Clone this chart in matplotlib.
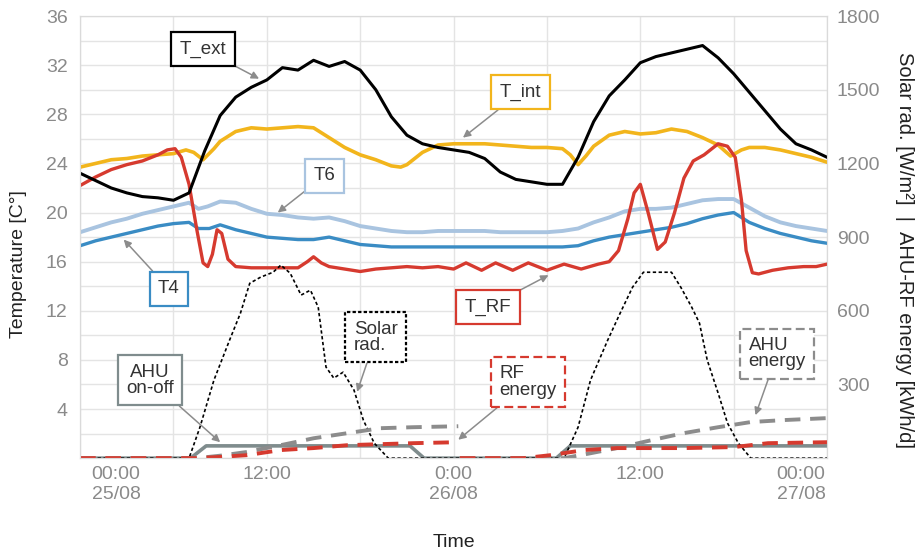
import numpy as np
import matplotlib.pyplot as plt
from matplotlib.transforms import ScaledTranslation

plt.rcParams["font.family"] = ["Liberation Sans", "DejaVu Sans"]

# time axis in hours from 00:00 25/08
x_ticks = [0, 12, 24, 36, 48]
x_labels = ["00:00\n25/08", "12:00", "0:00\n26/08", "12:00", "00:00\n27/08"]

# temperatures [C]
t_ext_h = list(range(49))
t_ext = [23.2, 22.6, 22.0, 21.6, 21.3, 21.2, 21.0, 21.6, 25.0, 27.9,
         29.4, 30.2, 30.8, 31.8, 31.6, 32.4, 31.9, 32.3, 31.6, 30.0,
         27.8, 26.3, 25.6, 25.3, 25.1, 24.9, 24.4, 23.3, 22.7, 22.5,
         22.3, 22.3, 24.5, 27.4, 29.5, 30.8, 32.2, 32.7, 33.0, 33.3,
         33.6, 32.6, 31.3, 29.8, 28.3, 26.8, 25.6, 25.1, 24.5]

t_int_h = [0, 1, 2, 3, 4, 5, 6, 6.8, 7.3, 7.9, 8.6, 9, 10, 11, 12, 13, 14, 15,
           16, 17, 18, 19, 20, 20.6, 21, 22, 23, 24, 25, 26, 27, 28, 29, 30,
           31, 31.5, 32, 32.5, 33, 34, 35, 36, 37, 38, 39, 40, 41, 41.8, 42.5,
           43, 44, 45, 46, 47, 48]
t_int = [23.7, 24.0, 24.3, 24.4, 24.6, 24.7, 24.8, 25.1, 24.9, 24.3, 25.2,
         25.8, 26.6, 26.9, 26.8, 26.9, 27.0, 26.9, 26.1, 25.3, 24.7, 24.3,
         23.8, 23.7, 23.9, 24.9, 25.5, 25.6, 25.6, 25.6, 25.5, 25.4, 25.3,
         25.3, 25.2, 24.7, 23.9, 24.6, 25.4, 26.3, 26.6, 26.4, 26.5, 26.8,
         26.6, 26.1, 25.5, 24.6, 25.1, 25.3, 25.3, 25.1, 24.8, 24.5, 24.1]

t6_h = [0, 1, 2, 3, 4, 5, 6, 7, 7.6, 8.2, 9, 10, 11, 12, 13, 14, 15, 16, 17,
        18, 19, 20, 21, 22, 23, 24, 25, 26, 27, 28, 29, 30, 31, 32, 33, 34,
        35, 36, 37, 38, 39, 40, 41, 42, 43, 44, 45, 46, 47, 48]
t6 = [18.4, 18.8, 19.2, 19.5, 19.9, 20.2, 20.5, 20.8, 20.3, 20.5, 20.9, 20.8,
      20.3, 19.9, 19.8, 19.6, 19.5, 19.6, 19.3, 18.9, 18.7, 18.5, 18.4, 18.4,
      18.5, 18.5, 18.5, 18.5, 18.4, 18.4, 18.4, 18.4, 18.5, 18.7, 19.2, 19.6,
      20.1, 20.3, 20.3, 20.4, 20.7, 21.0, 21.1, 21.1, 20.4, 19.7, 19.2, 18.9,
      18.7, 18.5]

t4_h = [0, 1, 2, 3, 4, 5, 6, 7, 7.6, 8.3, 9, 10, 11, 12, 13, 14, 15, 16, 17,
        18, 19, 20, 22, 24, 26, 28, 30, 31, 32, 33, 34, 35, 36, 37, 38, 39,
        40, 41, 42, 43, 44, 45, 46, 47, 48]
t4 = [17.3, 17.7, 18.0, 18.3, 18.6, 18.9, 19.1, 19.2, 18.7, 18.7, 19.0, 18.6,
      18.3, 18.0, 17.9, 17.8, 17.8, 18.0, 17.7, 17.4, 17.3, 17.2, 17.2, 17.2,
      17.2, 17.2, 17.2, 17.2, 17.3, 17.7, 18.0, 18.2, 18.4, 18.6, 18.8, 19.1,
      19.5, 19.8, 20.0, 19.2, 18.7, 18.3, 18.0, 17.7, 17.5]

t_rf_h = [0, 1, 2, 3, 4, 5, 5.6, 6.1, 6.5, 7, 7.5, 7.9, 8.2, 8.5, 8.8, 9.1,
          9.5, 10, 11, 12, 13, 14, 14.6, 15, 15.5, 16, 17, 18, 19, 20, 21, 22,
          23, 24, 24.8, 25.8, 26.7, 27.8, 28.8, 30.0, 31.1, 32.2, 33.3, 34,
          34.6, 35.2, 35.6, 36.0, 36.5, 37.1, 37.6, 38.2, 38.8, 39.4, 40.1,
          41.0, 41.6, 42.1, 42.5, 42.8, 43.2, 43.6, 44.5, 45.5, 46.5, 47.3, 48]
t_rf = [22.2, 22.9, 23.5, 23.9, 24.2, 24.7, 25.1, 25.2, 24.5, 22.3, 18.6, 15.9,
        15.6, 16.6, 18.6, 18.3, 16.2, 15.6, 15.5, 15.5, 15.5, 15.5, 16.0, 16.4,
        15.9, 15.6, 15.4, 15.2, 15.4, 15.5, 15.6, 15.5, 15.6, 15.4, 15.9, 15.3,
        15.9, 15.3, 15.9, 15.3, 15.8, 15.4, 15.8, 16.0, 16.9, 19.5, 21.6, 22.3,
        20.0, 17.0, 17.6, 20.0, 22.8, 24.2, 24.7, 25.6, 25.4, 24.5, 21.0, 16.9,
        15.1, 15.0, 15.3, 15.5, 15.6, 15.6, 15.8]

# AHU on-off (left axis)
ahu_on_h = [0, 7.1, 8.1, 21.2, 22.1, 30.6, 31.5, 48]
ahu_on = [0, 0, 1, 1, 0, 0, 1, 1]

# solar radiation [W/m2] (right axis)
solar_h = [0, 7.0, 7.7, 8.6, 9.6, 10.3, 10.9, 11.6, 12.4, 12.9, 13.5, 14.2,
           14.8, 15.3, 15.8, 16.3, 16.9, 17.6, 18.2, 18.9, 19.8, 31.1, 32.0,
           32.8, 33.9, 34.7, 35.5, 36.2, 37.1, 38.0, 38.6, 39.3, 39.8, 40.3,
           41.0, 41.6, 42.3, 43.1, 48]
solar = [0, 0, 126, 318, 480, 590, 712, 737, 757, 786, 753, 664, 684, 615,
         371, 326, 350, 277, 155, 61, 0, 0, 126, 318, 480, 590, 696, 757, 757,
         757, 696, 615, 550, 399, 265, 143, 61, 0, 0]

# energies [kWh/d] (right axis), reset at midnight
ahu_e_h = [0, 7.5, 9, 10.7, 12.9, 15, 17.2, 19.3, 21.4, 24.3, 24.3, 24.4,
           31.1, 32.8, 34.5, 36.7, 38.8, 41.0, 43.1, 45.2, 48]
ahu_e = [0, 0, 10, 25, 53, 81, 102, 122, 126, 130, np.nan, 0,
         0, 20, 41, 73, 102, 126, 147, 155, 163]

rf_e_h = [0, 7.5, 9, 10.7, 12.9, 15, 17.2, 19.3, 21.4, 24.3, 24.3, 24.4,
          28.5, 30.2, 32.4, 34.5, 38.8, 42.0, 44.2, 48]
rf_e = [0, 0, 5, 12, 33, 41, 53, 57, 61, 65, np.nan, 0,
        0, 12, 33, 41, 41, 45, 61, 65]

c_int = "#f2b51c"
c_t6 = "#a9c4e0"
c_t4 = "#3a8cc4"
c_rf = "#d63a2f"
c_ahu = "#7f8c8d"
c_ahu_e = "#8c8c8c"
c_tick = "#8a8a8a"

fig, ax = plt.subplots(figsize=(9.21, 5.54), dpi=100)
fig.subplots_adjust(left=0.087, right=0.898, top=0.971, bottom=0.173)
ax2 = ax.twinx()

ax.plot(t_ext_h, t_ext, color="black", lw=2.2, zorder=5)
ax.plot(t_int_h, t_int, color=c_int, lw=2.6, zorder=4)
ax.plot(t6_h, t6, color=c_t6, lw=2.8, zorder=3)
ax.plot(t4_h, t4, color=c_t4, lw=2.4, zorder=3)
ax.plot(t_rf_h, t_rf, color=c_rf, lw=2.4, zorder=4)
ax.plot(ahu_on_h, ahu_on, color=c_ahu, lw=2.6, zorder=3)

ax2.plot(solar_h, solar, color="black", lw=1.2, linestyle=(0, (2, 1.5)))
ax2.plot(ahu_e_h, ahu_e, color=c_ahu_e, lw=2.8, linestyle=(0, (4, 2.5)))
ax2.plot(rf_e_h, rf_e, color=c_rf, lw=2.8, linestyle=(0, (4, 2.5)))

ax.set_xlim(0, 48)
ax.set_ylim(0, 36)
ax2.set_ylim(0, 1800)

ax.set_xticks(x_ticks)
ax.set_xticklabels(x_labels)
ax.set_xticks([6, 18, 30, 42], minor=True)
ax.set_yticks(range(4, 37, 4))
ax.set_yticks(np.arange(0, 37, 2), minor=True)
ax2.set_yticks(range(300, 1801, 300))

ax.grid(True, which="both", color="#e4e4e4", lw=1)
ax.set_axisbelow(True)

ax.tick_params(axis="both", which="both", length=0, labelsize=14, colors=c_tick)
ax.tick_params(axis="y", pad=9)
ax.tick_params(axis="x", pad=6)
ax2.tick_params(axis="y", length=0, labelsize=14, colors=c_tick, pad=7)

for a in (ax, ax2):
    for s in a.spines.values():
        s.set_color("#dadada")

labels = ax.get_xticklabels()
labels[0].set_transform(labels[0].get_transform() + ScaledTranslation(0.36, 0, fig.dpi_scale_trans))
labels[-1].set_transform(labels[-1].get_transform() + ScaledTranslation(-0.26, 0, fig.dpi_scale_trans))

ax.set_ylabel("Temperature [C°]", fontsize=14, color="#222222")
ax.yaxis.set_label_coords(-0.071, 0.44)
ax.set_xlabel("Time", fontsize=14, color="#222222", labelpad=22)
ax2.set_ylabel("Solar rad. [W/m²]  |  AHU-RF energy [kWh/d]", fontsize=14.5,
               color="#222222", rotation=270, va="center")
ax2.yaxis.set_label_coords(1.104, 0.47)

arrow = dict(arrowstyle="-|>", color="#8c8c8c", lw=1.1, mutation_scale=11,
             shrinkA=0, shrinkB=0)


def note(text, xy, xytext, ec, ls="-", ma="center"):
    ax2.annotate(text, xy=xy, xycoords=ax.transData, xytext=xytext,
                 textcoords=ax.transData, ha="center", va="center",
                 multialignment=ma, fontsize=13.5, color="#333333",
                 linespacing=0.95,
                 bbox=dict(boxstyle="square,pad=0.45", fc="white", ec=ec,
                           lw=1.6, ls=ls),
                 arrowprops=arrow, zorder=10)


note("T_ext", (11.5, 30.9), (7.9, 33.3), "black")
note("T_int", (24.6, 26.1), (28.3, 29.8), c_int)
note("T6", (12.7, 20.0), (15.7, 23.0), c_t6)
note("T4", (2.8, 17.8), (5.7, 13.8), c_t4)
note("T_RF", (30.1, 14.9), (26.2, 12.3), c_rf)
note("Solar\nrad.", (17.8, 5.4), (19.0, 9.85), "black", ls=(0, (1.5, 1)), ma="left")
note("AHU\non-off", (9.0, 1.3), (4.5, 6.35), c_ahu)
note("RF\nenergy", (24.3, 1.5), (28.8, 6.2), c_rf, ls=(0, (4, 2)), ma="left")
note("AHU\nenergy", (43.4, 3.5), (44.8, 8.5), c_ahu_e, ls=(0, (4, 2)), ma="left")

fig.savefig("out.png", dpi=100)
